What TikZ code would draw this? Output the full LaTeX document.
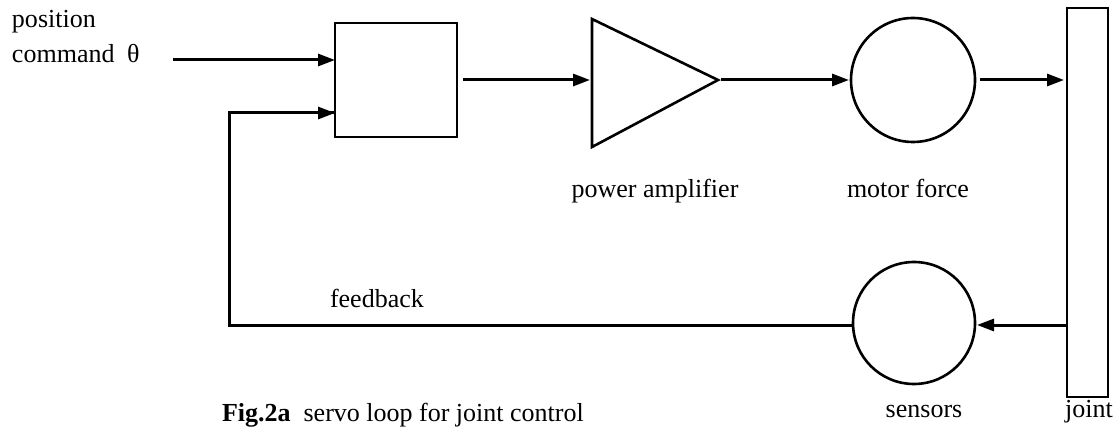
\documentclass[tikz,border=0pt]{standalone}
\usepackage{fontspec}
\setmainfont{Liberation Serif}
\usetikzlibrary{arrows.meta}
\begin{document}
\begin{tikzpicture}[x=1pt,y=-1pt,
  every node/.style={inner sep=0pt,outer sep=0pt},
  lbl/.style={font=\fontsize{26}{30}\selectfont},
  blk/.style={draw,line width=2.6pt},
  arr/.style={line width=3pt,-{Triangle[length=17pt,width=12pt]}},
  ln/.style={line width=3pt}]
\useasboundingbox (0,0) rectangle (1115,427);
\fill[white] (0,0) rectangle (1115,427);
% blocks
\node[blk,minimum width=122pt,minimum height=114pt] (box) at (396,80) {};
\draw[blk,line join=miter] (592,19) -- (718,80) -- (592,147) -- cycle;
\coordinate (ampin) at (592,80);
\coordinate (ampout) at (718,80);
\node[blk,circle,minimum size=124pt] (motor) at (913,80) {};
\node[blk,minimum width=41pt,minimum height=389pt] (joint) at (1087.5,202.5) {};
\node[blk,circle,minimum size=122pt] (sensors) at (914,323) {};
% connectors
\coordinate (cmd) at (173,60);
\draw[arr] (cmd) -- ([yshift=20pt]box.west);
\draw[arr] ([xshift=6pt]box.east) -- ([xshift=-2pt]ampin);
\draw[arr] ([xshift=3pt]ampout) -- ([xshift=-2pt]motor.west);
\draw[arr] ([xshift=5pt]motor.east) -- ([xshift=-3pt,yshift=122.5pt]joint.west);
\draw[arr] ([xshift=-1pt,yshift=-122.5pt]joint.west) -- ([xshift=2pt,yshift=-2pt]sensors.east);
\coordinate (fbc) at (229,325);
\draw[ln,line join=miter] ([yshift=-2pt]sensors.west) -- (fbc) |- ([yshift=-33pt]box.west);
\draw[arr] ([xshift=-40pt,yshift=-33pt]box.west) -- ([yshift=-33pt]box.west);
% labels
\node[lbl,anchor=base west] (pos) at (12,28) {position};
\node[lbl,anchor=base west] (cmdt) at (12,63) {command};
\node[lbl,anchor=base west] (theta) at (127,63) {θ};
\node[lbl,anchor=base] (ampl) at (655,198) {power amplifier};
\node[lbl,anchor=base] (motl) at (908,198) {motor force};
\node[lbl,anchor=base west] (fbl) at (330,308) {feedback};
\node[lbl,anchor=base] (senl) at (924,417) {sensors};
\node[lbl,anchor=base] (jl) at (1089,417) {joint};
\node[anchor=base west,font=\fontsize{26}{30}\selectfont] (cap) at (222,421) {\textbf{Fig.2a}\ \ servo loop for joint control};
\end{tikzpicture}
\end{document}
